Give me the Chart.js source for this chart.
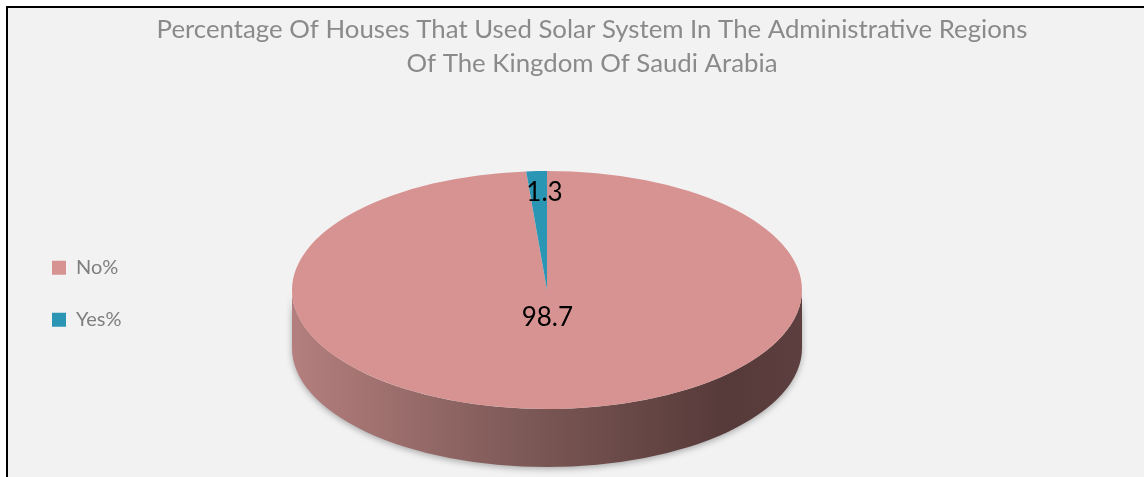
<!DOCTYPE html>
<html lang="en">
<head>
<meta charset="UTF-8" />
<title>Solar System Use - Saudi Arabia</title>
<script src="https://cdn.jsdelivr.net/npm/chart.js"></script>
<style>
  body { margin: 0; background: #fff; }
  #frame { position: absolute; left: 6px; top: 6px; width: 1138px; height: 471px; box-sizing: border-box;
           border-left: 2px solid #000; border-top: 2px solid #000; background: #f2f2f2; }
  #wrap { width: 1136px; height: 469px; }
</style>
</head>
<body>
<div id="frame"><div id="wrap"><canvas id="solarChart"></canvas></div></div>
<script>
const categories = ['No%', 'Yes%'];
const values = [98.7, 1.3];
const sliceColors = ['#d79391', '#2b96b4'];
const titleLines = [
  'Percentage Of Houses That Used Solar System In The Administrative Regions',
  'Of The Kingdom Of Saudi Arabia'
];

// look of the 3d disc (canvas px)
const disc = { cx: 539, cy: 282, rx: 255, ry: 119, depth: 58 };
const labelReach = [0.23, 0.82];

const pie3d = {
  id: 'pie3d',
  beforeDatasetsDraw(chart) {
    const ctx = chart.ctx;
    const arc = chart.getDatasetMeta(0).data[0];
    const r = arc.outerRadius;
    ctx.save();
    // side wall of the disc
    ctx.save();
    const g = ctx.createLinearGradient(disc.cx - disc.rx, 0, disc.cx + disc.rx, 0);
    g.addColorStop(0, '#b47f7e');
    g.addColorStop(0.45, '#7d5957');
    g.addColorStop(0.85, '#563a39');
    g.addColorStop(1, '#5c3f3e');
    ctx.shadowColor = 'rgba(0,0,0,0.3)';
    ctx.shadowBlur = 6;
    ctx.shadowOffsetY = 2;
    ctx.beginPath();
    ctx.ellipse(disc.cx, disc.cy + disc.depth, disc.rx, disc.ry, 0, 0, Math.PI);
    ctx.lineTo(disc.cx - disc.rx, disc.cy);
    ctx.ellipse(disc.cx, disc.cy, disc.rx, disc.ry, 0, Math.PI, 0, true);
    ctx.closePath();
    ctx.fillStyle = g;
    ctx.fill();
    ctx.restore();
    // squash the flat pie into the top face
    ctx.translate(disc.cx, disc.cy);
    ctx.scale(disc.rx / r, disc.ry / r);
    ctx.translate(-arc.x, -arc.y);
  },
  afterDatasetsDraw(chart) {
    const ctx = chart.ctx;
    ctx.restore();
    const meta = chart.getDatasetMeta(0);
    ctx.save();
    ctx.font = '26px Lato';
    ctx.fillStyle = '#000';
    ctx.textAlign = 'center';
    ctx.textBaseline = 'middle';
    meta.data.forEach((a, i) => {
      const mid = (a.startAngle + a.endAngle) / 2;
      const k = labelReach[i];
      ctx.fillText(String(values[i]), disc.cx + Math.cos(mid) * disc.rx * k + (i ? 6 : -2), disc.cy + Math.sin(mid) * disc.ry * k);
    });
    ctx.restore();
  }
};

new Chart(document.getElementById('solarChart'), {
  type: 'pie',
  data: {
    labels: categories,
    datasets: [{ data: values, backgroundColor: sliceColors, borderWidth: 0 }]
  },
  options: {
    responsive: true,
    maintainAspectRatio: false,
    animation: false,
    events: [],
    layout: { padding: { left: 12, right: -20 } },
    plugins: {
      title: {
        display: true,
        text: titleLines,
        color: '#8a8a8a',
        font: { family: 'Lato', size: 25.8, weight: 'normal', lineHeight: 1.31 },
        padding: { top: 5, bottom: 30 }
      },
      legend: {
        position: 'left',
        fullSize: false,
        labels: { color: '#7f7f7f', font: { family: 'Lato', size: 20 }, boxWidth: 14, boxHeight: 14, padding: 32 }
      },
      tooltip: { enabled: false }
    }
  },
  plugins: [pie3d]
});
</script>
</body>
</html>
